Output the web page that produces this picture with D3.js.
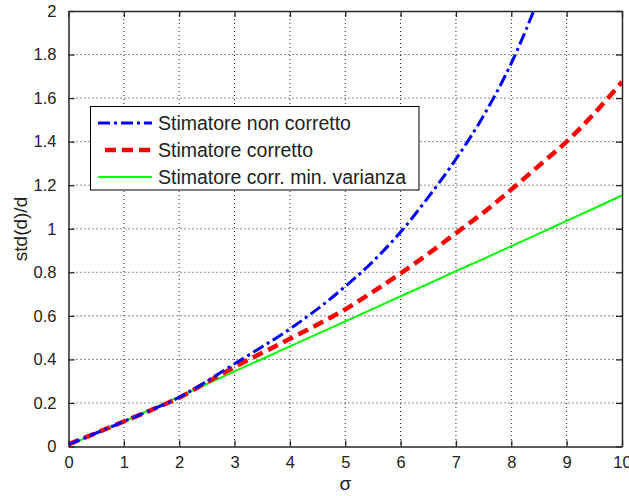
<!DOCTYPE html>
<html><head><meta charset="utf-8">
<script src="https://cdn.jsdelivr.net/npm/d3@7/dist/d3.min.js"></script>
<style>body{margin:0;background:#fff}svg{display:block}</style>
</head><body>
<script>
const sigma = [0,0.5,1,1.5,2,2.5,3,3.5,4,4.5,5,5.5,6,6.5,7,7.5,8,8.5,9,9.5,10];
const nonCorretto = [0.01,0.062,0.115,0.168,0.226,0.3,0.38,0.458,0.54,0.632,0.735,0.85,0.985,1.145,1.32,1.52,1.76,2.06,null,null,null];
const corretto    = [0.01,0.062,0.115,0.168,0.224,0.295,0.365,0.43,0.495,0.56,0.63,0.71,0.795,0.885,0.98,1.075,1.18,1.29,1.40,1.53,1.675];
const minVarianza = [0.005,0.06,0.115,0.172,0.229,0.287,0.345,0.402,0.46,0.517,0.575,0.632,0.69,0.747,0.805,0.862,0.92,0.978,1.036,1.094,1.153];
const xTicks = [0,1,2,3,4,5,6,7,8,9,10];
const yTicks = [0,0.2,0.4,0.6,0.8,1,1.2,1.4,1.6,1.8,2];
const seriesNames = ["Stimatore non corretto","Stimatore corretto","Stimatore corr. min. varianza"];
const seriesColors = ["#0000ff","#ff0000","#00ff00"];

const W=629,H=496;
const L=68.5,R=622,T=11,B=446.5;
const svg=d3.select("body").append("svg").attr("width",W).attr("height",H);
const x=d3.scaleLinear().domain([0,10]).range([L,R]);
const y=d3.scaleLinear().domain([0,2]).range([B,T]);
const font="'Liberation Sans', Arial, sans-serif";

// grid
const g=svg.append("g");
xTicks.forEach(t=>{ if(t>0&&t<10) g.append("line").attr("x1",x(t)).attr("x2",x(t)).attr("y1",T).attr("y2",B)
  .attr("stroke","#222").attr("stroke-width",1).attr("stroke-dasharray","1,3");});
yTicks.forEach(t=>{ if(t>0&&t<2) g.append("line").attr("y1",y(t)).attr("y2",y(t)).attr("x1",L).attr("x2",R)
  .attr("stroke","#222").attr("stroke-width",1).attr("stroke-dasharray","1,3");});

// axes
const fmt=d=>d3.format("~g")(d);
const axB=svg.append("g").attr("transform",`translate(0,${B})`).call(d3.axisBottom(x).tickValues(xTicks).tickFormat(fmt).tickSizeInner(-6).tickSizeOuter(0).tickPadding(10));
const axT=svg.append("g").attr("transform",`translate(0,${T})`).call(d3.axisTop(x).tickValues(xTicks).tickFormat("").tickSizeInner(-6).tickSizeOuter(0));
const axL=svg.append("g").attr("transform",`translate(${L},0)`).call(d3.axisLeft(y).tickValues(yTicks).tickFormat(fmt).tickSizeInner(-6).tickSizeOuter(0).tickPadding(12));
const axR=svg.append("g").attr("transform",`translate(${R},0)`).call(d3.axisRight(y).tickValues(yTicks).tickFormat("").tickSizeInner(-6).tickSizeOuter(0));
[axB,axT,axL,axR].forEach(a=>{
  a.selectAll("path").attr("stroke","#262626").attr("stroke-width",1.5);
  a.selectAll("line").attr("stroke","#262626").attr("stroke-width",1.3);
  a.selectAll("text").attr("font-family",font).attr("font-size","16.5px").attr("fill","#222");
});

// clip
svg.append("clipPath").attr("id","clip").append("rect").attr("x",L).attr("y",T).attr("width",R-L).attr("height",B-T);

const line=d3.line().defined(d=>d[1]!=null).x(d=>x(d[0])).y(d=>y(d[1])).curve(d3.curveMonotoneX);
const series=[
  {vals:nonCorretto,w:3,dash:"12,4,3,4"},
  {vals:corretto,w:4.5,dash:"11,6"},
  {vals:minVarianza,w:2,dash:null}
];
const pg=svg.append("g").attr("clip-path","url(#clip)");
series.slice().reverse().forEach((s,ri)=>{
  const i=2-ri;
  pg.append("path").datum(sigma.map((v,k)=>[v,s.vals[k]])).attr("d",line).attr("fill","none")
    .attr("stroke",seriesColors[i]).attr("stroke-width",s.w).attr("stroke-dasharray",s.dash);
});

// legend
const lg=svg.append("g");
lg.append("rect").attr("x",90.5).attr("y",106.5).attr("width",328.5).attr("height",83.5).attr("fill","#fff").attr("stroke","#000").attr("stroke-width",1);
const rows=[123,150,177];
series.forEach((s,i)=>{
  lg.append("line").attr("x1",i==1?105:98).attr("x2",152).attr("y1",rows[i]).attr("y2",rows[i])
    .attr("stroke",seriesColors[i]).attr("stroke-width",s.w).attr("stroke-dasharray",s.dash);
  lg.append("text").attr("x",158).attr("y",rows[i]+7).text(seriesNames[i])
    .attr("font-family",font).attr("font-size","19.5px").attr("fill","#222");
});

// labels
svg.append("text").attr("x",x(5)).attr("y",490).attr("text-anchor","middle").text("σ")
  .attr("font-family",font).attr("font-size","19px").attr("fill","#222");
svg.append("text").attr("transform",`translate(27,229) rotate(-90)`).attr("text-anchor","middle").text("std(d)/d")
  .attr("font-family",font).attr("font-size","19px").attr("fill","#222");
</script>
</body></html>
